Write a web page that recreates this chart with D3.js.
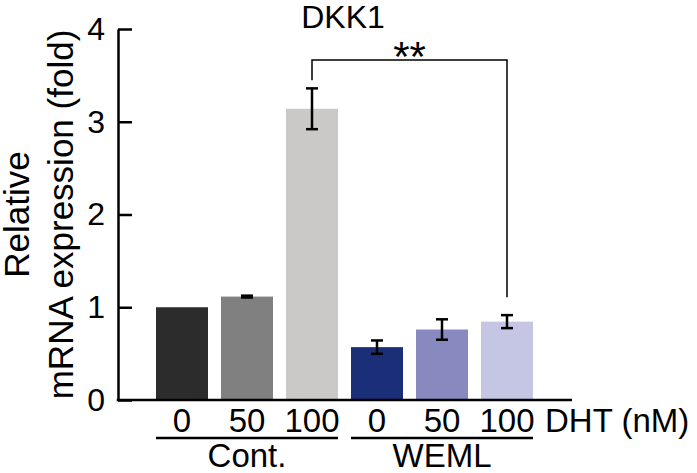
<!DOCTYPE html>
<html>
<head>
<meta charset="utf-8">
<script src="https://cdn.jsdelivr.net/npm/d3@7"></script>
<style>
  html, body { margin: 0; padding: 0; background: #ffffff; }
  svg { display: block; font-family: Arial, "Liberation Sans", Helvetica, sans-serif; }
</style>
</head>
<body>
<svg id="chart" width="697" height="473"></svg>
<script>
// ---- data ----
const categories = ["Cont-0", "Cont-50", "Cont-100", "WEML-0", "WEML-50", "WEML-100"];
const doseLabels = ["0", "50", "100", "0", "50", "100"];
const values = [1.00, 1.115, 3.14, 0.57, 0.76, 0.845];
const errors = [0.0, 0.01, 0.22, 0.072, 0.11, 0.07];
const barColors = ["#2c2c2c", "#808080", "#cbc9c8", "#1b2e78", "#8789bf", "#c5c6e4"];
const groups = [
  { label: "Cont.", members: ["Cont-0", "Cont-50", "Cont-100"] },
  { label: "WEML", members: ["WEML-0", "WEML-50", "WEML-100"] }
];
const yTicks = [0, 1, 2, 3, 4];
const title = "DKK1";
const yTitleLines = ["Relative", "mRNA expression (fold)"];
const unitLabel = "DHT (nM)";
const sig = { from: "Cont-100", to: "WEML-100", label: "**" };

// ---- layout ----
const svg = d3.select("#chart");
const x = d3.scaleBand().domain(categories).range([149.5, 539.5]).paddingInner(0.2).paddingOuter(0.1);
const y = d3.scaleLinear().domain([0, 4]).range([400, 29]);
const axisX0 = 118, axisX1 = 572;

// bars
svg.append("g").selectAll("rect").data(categories).join("rect")
  .attr("x", d => x(d))
  .attr("width", x.bandwidth())
  .attr("y", (d, i) => y(values[i]))
  .attr("height", (d, i) => y(0) - y(values[i]))
  .attr("fill", (d, i) => barColors[i]);

// error bars
const eb = svg.append("g").attr("stroke", "#000").attr("stroke-width", 2.5);
categories.forEach((c, i) => {
  if (errors[i] <= 0) return;
  const cx = x(c) + x.bandwidth() / 2;
  const y1 = y(values[i] + errors[i]), y2 = y(values[i] - errors[i]);
  eb.append("line").attr("x1", cx).attr("x2", cx).attr("y1", y1).attr("y2", y2);
  eb.append("line").attr("x1", cx - 6).attr("x2", cx + 6).attr("y1", y1).attr("y2", y1);
  eb.append("line").attr("x1", cx - 6).attr("x2", cx + 6).attr("y1", y2).attr("y2", y2);
});

// y axis
const yAxis = d3.axisLeft(y).tickValues(yTicks).tickFormat(d3.format("d"))
  .tickSizeInner(-14).tickSizeOuter(0).tickPadding(13);
const yg = svg.append("g").attr("transform", `translate(${axisX0},0)`).call(yAxis);
yg.select(".domain").attr("stroke", "#000").attr("stroke-width", 2.5);
yg.selectAll(".tick line").attr("stroke", "#000").attr("stroke-width", 2.5);
yg.selectAll(".tick text").attr("font-size", 32).attr("fill", "#000")
  .attr("font-family", "Arial, 'Liberation Sans', sans-serif");

// x axis baseline
svg.append("line").attr("x1", axisX0 - 1.25).attr("x2", axisX1)
  .attr("y1", y(0)).attr("y2", y(0)).attr("stroke", "#000").attr("stroke-width", 2.5);

// dose labels
svg.append("g").selectAll("text").data(categories).join("text")
  .attr("x", d => x(d) + x.bandwidth() / 2)
  .attr("y", 432)
  .attr("text-anchor", "middle")
  .attr("font-size", 33)
  .text((d, i) => doseLabels[i]);

svg.append("text").attr("x", 545).attr("y", 432).attr("font-size", 33).text(unitLabel);

// group underlines and labels
groups.forEach(g => {
  const x0 = x(g.members[0]);
  const x1 = x(g.members[g.members.length - 1]) + x.bandwidth();
  svg.append("line").attr("x1", x0).attr("x2", x1).attr("y1", 438).attr("y2", 438)
    .attr("stroke", "#000").attr("stroke-width", 2.5);
  svg.append("text").attr("x", (x0 + x1) / 2).attr("y", 467)
    .attr("text-anchor", "middle").attr("font-size", 33).text(g.label);
});

// title
svg.append("text").attr("x", 343).attr("y", 28).attr("text-anchor", "middle")
  .attr("font-size", 32).text(title);

// y title
const yt = svg.append("text").attr("transform", `translate(0,${(y(0) + y(4)) / 2}) rotate(-90)`)
  .attr("text-anchor", "middle").attr("font-size", 35);
yt.append("tspan").attr("x", 0).attr("y", 29).text(yTitleLines[0]);
yt.append("tspan").attr("x", 0).attr("y", 73).text(yTitleLines[1]);

// significance bracket
const ia = categories.indexOf(sig.from), ib = categories.indexOf(sig.to);
const bx1 = x(sig.from) + x.bandwidth() / 2, bx2 = x(sig.to) + x.bandwidth() / 2;
const topY = 60;
svg.append("path")
  .attr("d", `M${bx1},${y(values[ia] + errors[ia]) - 8}V${topY}H${bx2}V${y(values[ib] + errors[ib]) - 18}`)
  .attr("fill", "none").attr("stroke", "#000").attr("stroke-width", 1.5);
svg.append("text").attr("x", (bx1 + bx2) / 2).attr("y", 71).attr("text-anchor", "middle")
  .attr("font-size", 42).text(sig.label);
</script>
</body>
</html>
